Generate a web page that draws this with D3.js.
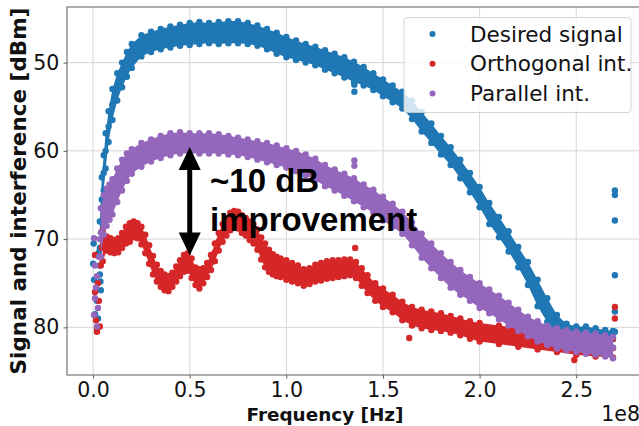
<!DOCTYPE html>
<html>
<head>
<meta charset="utf-8">
<script src="https://cdn.jsdelivr.net/npm/d3@7"></script>
<style>
  body { margin: 0; background: #fff; }
  svg { display: block; font-family: "DejaVu Sans", sans-serif; }
</style>
</head>
<body>
<div id="chart"></div>
<script>
// frequency in units of 1e8 Hz, levels in dBm (band upper / lower edge)
const desiredFreq = [0.035, 0.045, 0.055, 0.065, 0.08, 0.10, 0.125, 0.15, 0.175, 0.2, 0.25, 0.3, 0.35, 0.4, 0.45, 0.5, 0.55, 0.6, 0.65, 0.7, 0.75, 0.8, 0.85, 0.9, 0.95, 1.0, 1.05, 1.1, 1.15, 1.2, 1.25, 1.3, 1.35, 1.4, 1.45, 1.5, 1.55, 1.6, 1.65, 1.7, 1.75, 1.8, 1.85, 1.9, 1.95, 2.0, 2.05, 2.1, 2.15, 2.2, 2.25, 2.3, 2.35, 2.4, 2.45, 2.5, 2.55, 2.6, 2.65, 2.69];
const desiredTop = [68.0, 63.0, 60.5, 58.0, 55.5, 53.0, 51.2, 50.0, 48.8, 47.9, 46.9, 46.5, 46.2, 45.9, 45.7, 45.5, 45.4, 45.5, 45.4, 45.3, 45.3, 45.5, 45.8, 46.2, 46.6, 47.1, 47.5, 47.9, 48.2, 48.6, 49.0, 49.4, 49.9, 50.5, 51.2, 51.9, 52.6, 53.3, 54.3, 55.6, 56.9, 58.3, 59.6, 61.0, 62.5, 64.1, 65.9, 67.5, 69.1, 70.9, 72.6, 74.6, 76.7, 78.6, 79.6, 79.9, 79.9, 80.1, 80.3, 80.4];
const desiredBottom = [74.0, 68.0, 64.5, 62.0, 59.0, 56.5, 54.3, 52.8, 51.6, 50.6, 49.3, 48.8, 48.5, 48.3, 48.1, 48.0, 47.9, 47.8, 47.9, 47.8, 47.8, 47.9, 48.1, 48.5, 49.0, 49.4, 49.7, 50.0, 50.3, 50.8, 51.2, 51.7, 52.2, 52.6, 53.1, 53.8, 54.5, 55.2, 56.4, 57.8, 59.1, 60.4, 61.6, 63.1, 64.7, 66.4, 68.3, 69.8, 71.4, 73.2, 75.2, 77.6, 79.4, 80.8, 81.3, 81.5, 81.7, 81.9, 82.1, 82.3];
const desiredExtraX = [0.003, 0.0, 0.005, 0.02, 0.01, 0.038, 0.04, 0.035, 0.03, 0.025, 1.352, 1.352, 2.70, 2.70, 2.70, 2.70, 2.70, 2.70];
const desiredExtraY = [70.5, 72.8, 74.6, 77.0, 78.5, 74.8, 75.8, 73.0, 71.5, 79.0, 52.5, 53.3, 64.5, 65.0, 67.9, 74.1, 78.2, 80.5];

const orthoFreq = [0.05, 0.07, 0.09, 0.11, 0.13, 0.15, 0.17, 0.19, 0.21, 0.23, 0.25, 0.27, 0.29, 0.31, 0.33, 0.35, 0.37, 0.39, 0.41, 0.43, 0.45, 0.47, 0.49, 0.51, 0.53, 0.55, 0.57, 0.59, 0.61, 0.63, 0.65, 0.67, 0.69, 0.71, 0.73, 0.75, 0.77, 0.79, 0.81, 0.83, 0.85, 0.87, 0.89, 0.91, 0.93, 0.95, 0.97, 1.0, 1.03, 1.06, 1.09, 1.12, 1.15, 1.18, 1.21, 1.24, 1.27, 1.30, 1.33, 1.36, 1.39, 1.42, 1.46, 1.5, 1.55, 1.6, 1.65, 1.7, 1.75, 1.8, 1.85, 1.9, 1.95, 2.0, 2.1, 2.2, 2.3, 2.4, 2.5, 2.6, 2.69];
const orthoTop = [69.0, 69.7, 69.9, 70.1, 69.9, 69.3, 68.6, 68.2, 68.0, 68.2, 68.6, 69.5, 70.7, 71.9, 72.9, 73.6, 74.0, 74.2, 73.8, 73.1, 72.4, 71.8, 71.6, 72.2, 73.2, 73.4, 73.3, 72.7, 71.8, 70.5, 69.3, 68.3, 67.6, 67.0, 66.8, 66.9, 67.3, 67.6, 68.0, 68.3, 68.9, 69.8, 70.5, 71.2, 71.7, 72.0, 72.2, 72.4, 72.7, 73.0, 73.4, 73.3, 72.9, 72.7, 72.5, 72.4, 72.4, 72.3, 72.3, 72.6, 73.3, 74.1, 75.0, 75.6, 76.3, 77.1, 77.7, 78.0, 78.2, 78.4, 78.7, 79.0, 79.3, 79.5, 79.8, 80.1, 80.4, 80.7, 81.0, 81.2, 81.3];
const orthoBottom = [72.5, 71.3, 71.5, 71.6, 71.5, 71.0, 70.5, 70.3, 69.8, 69.9, 70.6, 71.6, 72.8, 74.0, 74.8, 75.4, 75.8, 75.9, 75.4, 74.8, 74.2, 73.7, 73.6, 74.4, 75.2, 75.6, 75.0, 74.3, 73.5, 72.5, 71.3, 70.3, 69.6, 69.0, 68.7, 68.8, 69.3, 69.6, 70.1, 70.5, 71.2, 72.3, 73.2, 73.7, 74.0, 74.2, 74.3, 74.6, 74.8, 75.0, 75.3, 75.1, 74.8, 74.7, 74.5, 74.4, 74.3, 74.2, 74.1, 74.4, 75.3, 76.1, 77.0, 77.7, 78.3, 79.2, 79.8, 80.1, 80.3, 80.4, 80.6, 80.9, 81.3, 81.6, 81.9, 82.2, 82.5, 82.8, 83.1, 83.3, 83.4];
const orthoExtraX = [0.01, 0.02, 0.035, 0.015, 0.03, 0.025, 0.04, 0.045, 0.01, 0.02, 1.356, 1.636, 2.70, 2.70, 2.49];
const orthoExtraY = [71.8, 80.1, 79.9, 79.2, 77.0, 75.0, 73.0, 71.0, 76.0, 80.5, 71.0, 81.2, 77.7, 79.0, 83.7];

const parallelFreq = [0.04, 0.055, 0.07, 0.085, 0.10, 0.125, 0.15, 0.175, 0.2, 0.25, 0.3, 0.35, 0.4, 0.45, 0.5, 0.55, 0.6, 0.65, 0.7, 0.75, 0.8, 0.85, 0.9, 0.95, 1.0, 1.05, 1.1, 1.15, 1.2, 1.25, 1.3, 1.35, 1.4, 1.45, 1.5, 1.55, 1.6, 1.65, 1.7, 1.75, 1.8, 1.85, 1.9, 1.95, 2.0, 2.05, 2.1, 2.15, 2.2, 2.25, 2.3, 2.35, 2.4, 2.45, 2.5, 2.55, 2.6, 2.65, 2.69];
const parallelTop = [66.5, 65.0, 64.3, 63.8, 63.2, 62.0, 61.0, 60.3, 59.8, 59.1, 58.7, 58.3, 58.0, 57.9, 58.0, 58.0, 58.0, 58.1, 58.3, 58.5, 58.7, 58.9, 59.1, 59.4, 59.7, 60.0, 60.4, 60.9, 61.6, 62.1, 62.6, 63.1, 63.8, 64.4, 65.2, 66.0, 66.9, 68.1, 69.4, 70.5, 71.6, 72.6, 73.5, 74.3, 75.0, 75.7, 76.4, 77.2, 78.0, 78.8, 79.3, 79.8, 80.1, 80.3, 80.5, 80.6, 80.7, 80.9, 81.1];
const parallelBottom = [72.0, 69.5, 68.5, 67.8, 67.2, 65.8, 64.5, 63.4, 62.6, 61.8, 61.2, 60.8, 60.5, 60.3, 60.3, 60.3, 60.3, 60.3, 60.4, 60.5, 60.7, 61.0, 61.3, 61.6, 61.9, 62.3, 62.8, 63.3, 64.0, 64.5, 65.1, 65.7, 66.4, 67.0, 67.9, 68.6, 69.4, 70.7, 72.1, 73.3, 74.4, 75.5, 76.3, 77.0, 77.8, 78.4, 79.1, 79.8, 80.4, 81.0, 81.6, 82.0, 82.4, 82.6, 82.8, 83.0, 83.1, 83.3, 83.5];
const parallelExtraX = [0.005, 0.02, 0.01, 0.005, 0.02, 0.015, 0.03, 0.035, 0.01, 0.025, 1.352, 1.352];
const parallelExtraY = [69.9, 74.2, 76.7, 78.6, 79.9, 75.5, 72.0, 70.0, 73.0, 77.8, 61.1, 61.7];

const seriesNames = ["Desired signal", "Orthogonal int.", "Parallel int."];
const seriesColors = ["#1f77b4", "#d62728", "#9467bd"];

const xTicks = [0, 0.5, 1.0, 1.5, 2.0, 2.5];
const yTicks = [50, 60, 70, 80];

// annotation: double arrow at 0.5e8 between these levels, text to the right
const arrowFreq = 0.5;
const arrowFrom = 59.55;
const arrowTo = 71.85;
const noteFreq = 0.6;
const noteLevel = 64.65;
const noteLines = ["~10 dB", "improvement"];

const width = 639, height = 426;
const plotLeft = 67, plotTop = 7, plotRight = 641, plotBottom = 375;

const svg = d3.select("#chart").append("svg")
    .attr("width", width)
    .attr("height", height);

const x = d3.scaleLinear().domain([-0.135, 2.835]).range([plotLeft, plotRight]);
const y = d3.scaleLinear().domain([43.7, 85.4]).range([plotTop, plotBottom]);

svg.append("defs").append("clipPath").attr("id", "plotclip")
    .append("rect")
    .attr("x", plotLeft).attr("y", plotTop)
    .attr("width", plotRight - plotLeft).attr("height", plotBottom - plotTop);

// grid
const grid = svg.append("g").attr("stroke", "#d6d6d6").attr("stroke-width", 1);
grid.selectAll(".gx").data(xTicks).enter().append("line")
    .attr("x1", d => x(d)).attr("x2", d => x(d))
    .attr("y1", plotTop).attr("y2", plotBottom);
grid.selectAll(".gy").data(yTicks).enter().append("line")
    .attr("x1", plotLeft).attr("x2", plotRight)
    .attr("y1", d => y(d)).attr("y2", d => y(d));

const plot = svg.append("g").attr("clip-path", "url(#plotclip)");

const series = [
    {freq: desiredFreq, hi: desiredTop, lo: desiredBottom, ex: desiredExtraX, ey: desiredExtraY},
    {freq: orthoFreq, hi: orthoTop, lo: orthoBottom, ex: orthoExtraX, ey: orthoExtraY},
    {freq: parallelFreq, hi: parallelTop, lo: parallelBottom, ex: parallelExtraX, ey: parallelExtraY}
];

const dotR = 3.2;

series.forEach((s, i) => {
    const color = seriesColors[i];
    const rows = s.freq.map((f, j) => ({f: f, t: s.hi[j], b: s.lo[j]}));
    const g = plot.append("g").attr("fill", color);

    const area = d3.area()
        .x(d => x(d.f))
        .y0(d => y(d.t))
        .y1(d => y(d.b));
    g.append("path").datum(rows).attr("d", area);

    g.selectAll(".t").data(rows).enter().append("circle")
        .attr("cx", d => x(d.f)).attr("cy", d => y(d.t)).attr("r", dotR);
    g.selectAll(".b").data(rows).enter().append("circle")
        .attr("cx", d => x(d.f)).attr("cy", d => y(d.b)).attr("r", dotR);
    g.selectAll(".m").data(rows).enter().append("circle")
        .attr("cx", d => x(d.f)).attr("cy", d => y((d.t + d.b) / 2)).attr("r", dotR);

    const extra = s.ex.map((f, j) => ({f: f, v: s.ey[j]}));
    g.selectAll(".e").data(extra).enter().append("circle")
        .attr("cx", d => x(d.f)).attr("cy", d => y(d.v)).attr("r", dotR);
});

// spines
svg.append("rect")
    .attr("x", plotLeft).attr("y", plotTop)
    .attr("width", plotRight - plotLeft).attr("height", plotBottom - plotTop)
    .attr("fill", "none").attr("stroke", "#5a5a5a").attr("stroke-width", 1);

// axes
const xAxis = svg.append("g")
    .attr("transform", `translate(0,${plotBottom})`)
    .call(d3.axisBottom(x).tickValues(xTicks).tickFormat(d3.format(".1f")).tickSize(3.5).tickPadding(4));
const yAxis = svg.append("g")
    .attr("transform", `translate(${plotLeft},0)`)
    .call(d3.axisLeft(y).tickValues(yTicks).tickFormat(d3.format("d")).tickSize(3.5).tickPadding(4.2));
[xAxis, yAxis].forEach(a => {
    a.select(".domain").remove();
    a.selectAll(".tick line").attr("stroke", "#5a5a5a");
    a.selectAll(".tick text")
        .attr("fill", "#111")
        .style("font-family", "DejaVu Sans")
        .style("font-size", "20.5px");
});

svg.append("text")
    .attr("x", 325).attr("y", 421)
    .attr("text-anchor", "middle")
    .style("font-size", "18.4px").style("font-weight", "bold")
    .attr("fill", "#111")
    .text("Frequency [Hz]");

svg.append("text")
    .attr("x", 640).attr("y", 421)
    .attr("text-anchor", "end")
    .style("font-size", "20.5px")
    .attr("fill", "#111")
    .text("1e8");

svg.append("text")
    .attr("transform", `translate(26,${(plotTop + plotBottom) / 2}) rotate(-90)`)
    .attr("text-anchor", "middle")
    .style("font-size", "21.5px").style("font-weight", "bold")
    .attr("fill", "#111")
    .text("Signal and interference [dBm]");

// double-headed arrow
const ax = x(arrowFreq), ay1 = y(arrowFrom), ay2 = y(arrowTo);
const headL = 23, headW = 11, shaftW = 2.5;
const arrowPath = d3.path();
arrowPath.moveTo(ax, ay1);
arrowPath.lineTo(ax + headW, ay1 + headL);
arrowPath.lineTo(ax + shaftW, ay1 + headL);
arrowPath.lineTo(ax + shaftW, ay2 - headL);
arrowPath.lineTo(ax + headW, ay2 - headL);
arrowPath.lineTo(ax, ay2);
arrowPath.lineTo(ax - headW, ay2 - headL);
arrowPath.lineTo(ax - shaftW, ay2 - headL);
arrowPath.lineTo(ax - shaftW, ay1 + headL);
arrowPath.lineTo(ax - headW, ay1 + headL);
arrowPath.closePath();
svg.append("path").attr("d", arrowPath.toString()).attr("fill", "#000");

svg.append("g")
    .selectAll("text")
    .data(noteLines)
    .enter()
    .append("text")
    .attr("x", x(noteFreq) + 1)
    .attr("y", (d, i) => y(noteLevel) + i * 39)
    .style("font-family", "Liberation Sans, Arial, sans-serif")
    .style("font-size", "33px").style("font-weight", "bold")
    .attr("fill", "#000")
    .text(d => d);

// legend
const legend = svg.append("g");
legend.append("rect")
    .attr("x", 404).attr("y", 17.5)
    .attr("width", 227).attr("height", 95)
    .attr("rx", 3)
    .attr("fill", "#fff").attr("fill-opacity", 0.8)
    .attr("stroke", "#cccccc").attr("stroke-opacity", 0.8);
const legendRows = legend.selectAll(".row")
    .data(seriesNames)
    .enter()
    .append("g")
    .attr("transform", (d, i) => `translate(0,${34 + i * 29.7})`);
legendRows.append("circle")
    .attr("cx", 432.5).attr("cy", 0).attr("r", 3)
    .attr("fill", (d, i) => seriesColors[i]);
legendRows.append("text")
    .attr("x", 470).attr("y", 7.5)
    .style("font-size", "21.5px")
    .attr("fill", "#111")
    .text(d => d);
</script>
</body>
</html>
